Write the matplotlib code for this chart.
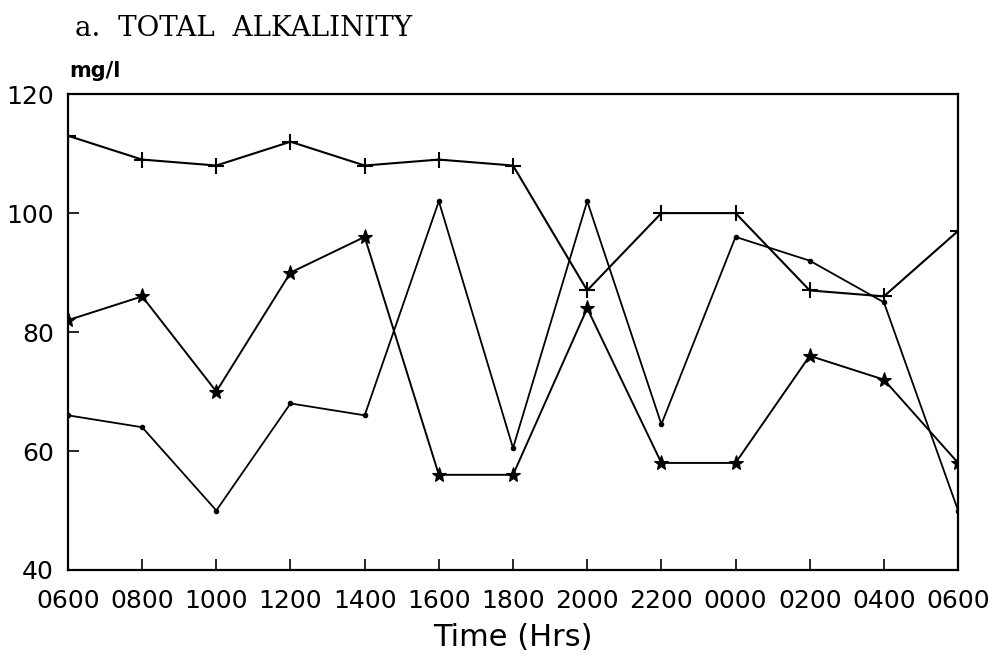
import matplotlib
matplotlib.use("Agg")
import matplotlib.pyplot as plt
import numpy as np

# Sampling times over a 24-hour survey
times = ["0600", "0800", "1000", "1200", "1400", "1600", "1800",
         "2000", "2200", "0000", "0200", "0400", "0600"]

# Total alkalinity (mg/l) at three stations
station_plus = [113, 109, 108, 112, 108, 109, 108, 87, 100, 100, 87, 86, 97]
station_star = [82, 86, 70, 90, 96, 56, 56, 84, 58, 58, 76, 72, 58]
station_dot = [66, 64, 50, 68, 66, 102, 60.5, 102, 64.5, 96, 92, 85, 50]

y_ticks = [40, 60, 80, 100, 120]

fig = plt.figure(figsize=(9.98, 6.63), dpi=100)
ax = fig.add_axes([0.0681, 0.1403, 0.8919, 0.7177])

x = np.arange(len(times))
ax.plot(x, station_plus, color="black", lw=1.5, marker="+", ms=12, mew=1.5)
ax.plot(x, station_star, color="black", lw=1.4, marker="*", ms=11, mew=0.8)
ax.plot(x, station_dot, color="black", lw=1.3, marker="o", ms=3)

ax.set_xlim(0, len(times) - 1)
ax.set_ylim(40, 120)
ax.set_xticks(x)
ax.set_xticklabels(times)
ax.set_yticks(y_ticks)

for lab in ax.get_xticklabels() + ax.get_yticklabels():
    lab.set_fontfamily("DejaVu Sans")
    lab.set_fontsize(18)

ax.tick_params(axis="both", direction="in", length=8, width=1.2,
               colors="black")
ax.tick_params(axis="y", pad=10)
ax.tick_params(axis="x", pad=14)
for side in ax.spines.values():
    side.set_linewidth(1.6)

ax.set_xlabel("Time (Hrs)", fontsize=22, family="DejaVu Sans", labelpad=7)

fig.text(0.069, 0.878, "mg/l", fontsize=15, fontweight="bold",
         family="DejaVu Sans", ha="left", va="bottom")
fig.text(0.075, 0.957, "a.  TOTAL  ALKALINITY", fontsize=20,
         family="DejaVu Serif", ha="left", va="center")

fig.savefig("out.png", dpi=100)
